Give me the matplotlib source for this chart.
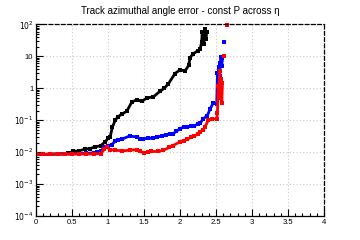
import numpy as np
import matplotlib
matplotlib.use("Agg")
import matplotlib.pyplot as plt
from matplotlib.ticker import FixedLocator, FixedFormatter, LogLocator, NullFormatter

plt.rcParams['font.family'] = ['Liberation Sans', 'DejaVu Sans']

# ===== data =====
black_eta = [0.0, 0.1, 0.2, 0.3, 0.4, 0.45, 0.52, 0.6, 0.68, 0.75, 0.82, 0.9, 0.96,
             1.0, 1.03, 1.06, 1.1, 1.14, 1.2, 1.26, 1.33, 1.40, 1.47, 1.54, 1.63,
             1.72, 1.78, 1.84, 1.93, 2.0, 2.07, 2.12, 2.14, 2.18, 2.25, 2.28, 2.30,
             2.31, 2.32, 2.33, 2.35, 2.36, 2.37]
black_err = [0.0085, 0.0085, 0.0087, 0.0088, 0.009, 0.0095, 0.0105, 0.011, 0.0124,
             0.013, 0.0146, 0.016, 0.021, 0.027, 0.03, 0.06, 0.1, 0.13, 0.16, 0.19,
             0.37, 0.44, 0.39, 0.5, 0.54, 0.8, 1.0, 1.4, 2.9, 3.8, 3.5, 5.2, 9.1, 12,
             15, 17, 28, 60, 32, 25, 70, 35, 58]

blue_eta = [0.0, 0.1, 0.2, 0.3, 0.4, 0.5, 0.6, 0.7, 0.8, 0.85, 0.9, 0.95, 1.0, 1.05,
            1.1, 1.14, 1.2, 1.3, 1.4, 1.45, 1.49, 1.55, 1.62, 1.68, 1.75, 1.8, 1.86,
            1.9, 1.95, 2.0, 2.05, 2.1, 2.15, 2.2, 2.25, 2.28, 2.32, 2.38, 2.42, 2.46,
            2.51, 2.52, 2.53, 2.54, 2.55, 2.56, 2.57, 2.58, 2.59]
blue_err = [0.0085, 0.0085, 0.0086, 0.0087, 0.0088, 0.0089, 0.009, 0.0092, 0.0095,
            0.0098, 0.0105, 0.015, 0.016, 0.017, 0.022, 0.024, 0.026, 0.032, 0.03,
            0.026, 0.025, 0.028, 0.027, 0.029, 0.033, 0.035, 0.038, 0.037, 0.045,
            0.055, 0.06, 0.063, 0.065, 0.068, 0.075, 0.08, 0.11, 0.14, 0.23, 0.34,
            0.32, 3.0, 1.8, 4.6, 2.5, 6.0, 9.6, 5.0, 9.0]

red_eta = [0.0, 0.1, 0.2, 0.3, 0.4, 0.5, 0.6, 0.7, 0.8, 0.9, 0.95, 0.98, 1.03, 1.1,
           1.2, 1.3, 1.4, 1.45, 1.5, 1.55, 1.6, 1.7, 1.77, 1.85, 1.9, 2.0, 2.05, 2.1,
           2.15, 2.2, 2.25, 2.28, 2.32, 2.35, 2.39, 2.44, 2.51, 2.52, 2.53, 2.54,
           2.55, 2.56, 2.57, 2.58, 2.59]
red_err = [0.0085, 0.0086, 0.0085, 0.0087, 0.0086, 0.0087, 0.0088, 0.0087, 0.0088,
           0.009, 0.0125, 0.0146, 0.012, 0.0115, 0.011, 0.0115, 0.012, 0.0105,
           0.0095, 0.0098, 0.0105, 0.0105, 0.0115, 0.014, 0.016, 0.021, 0.023,
           0.025, 0.029, 0.033, 0.036, 0.043, 0.05, 0.062, 0.1, 0.11, 0.11, 0.17,
           1.2, 0.5, 3.6, 0.8, 2.0, 0.34, 1.5]

# isolated outliers
blue_out_eta, blue_out_err = [2.61], [28]
red_out_eta, red_out_err = [2.61, 2.65], [10, 98]

fig = plt.figure(figsize=(3.6, 2.4), dpi=100)
ax = fig.add_axes([0.1, 0.1, 0.8, 0.798])

for eta, err, col in [(black_eta, black_err, 'black'),
                      (blue_eta, blue_err, 'blue'),
                      (red_eta, red_err, 'red')]:
    ax.plot(eta, err, color=col, lw=2.0, marker='s', ms=2.4, mew=0)
ax.plot(blue_out_eta, blue_out_err, 's', color='blue', ms=2.4, mew=0)
ax.plot(red_out_eta, red_out_err, 's', color='red', ms=2.4, mew=0, clip_on=False)

ax.set_yscale('log')
ax.set_xlim(0, 4)
ax.set_ylim(1e-4, 1e2)

# ticks, ROOT style
ax.xaxis.set_major_locator(FixedLocator(np.arange(0, 4.01, 0.5)))
ax.xaxis.set_minor_locator(FixedLocator(np.arange(0, 4.01, 0.1)))
ax.xaxis.set_major_formatter(FixedFormatter(['0', '0.5', '1', '1.5', '2', '2.5', '3', '3.5', '4']))
ax.yaxis.set_major_locator(FixedLocator([1e-4, 1e-3, 1e-2, 1e-1, 1, 10, 100]))
ax.yaxis.set_major_formatter(FixedFormatter(['$10^{-4}$', '$10^{-3}$', '$10^{-2}$',
                                             '$10^{-1}$', '1', '10', '$10^{2}$']))
ax.yaxis.set_minor_locator(LogLocator(base=10, subs=np.arange(2, 10), numticks=20))
ax.yaxis.set_minor_formatter(NullFormatter())
ax.tick_params(which='both', direction='in', top=False, right=False,
               labelsize=5.5, width=0.8, pad=2)
ax.tick_params(which='major', length=5)
ax.tick_params(which='minor', length=2.5)

ax.grid(True, which='major', color='#c8c8c8', ls=(0, (1, 2)), lw=0.8)
ax.set_axisbelow(True)

for s in ['left', 'bottom']:
    ax.spines[s].set_linewidth(0.9)
for s in ['top', 'right']:
    ax.spines[s].set_linestyle((0, (3, 2)))
    ax.spines[s].set_linewidth(0.9)

fig.suptitle('Track azimuthal angle error - const P across η', fontsize=7, y=0.975)

fig.savefig('out.png', dpi=100, facecolor='white')
